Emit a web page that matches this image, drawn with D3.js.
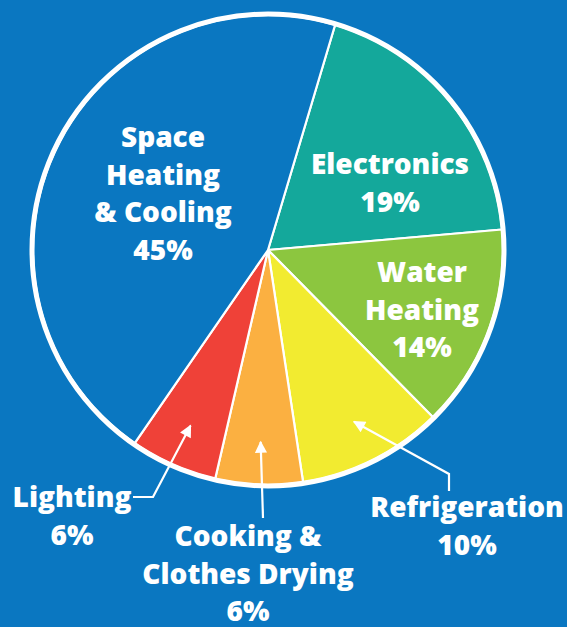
<!DOCTYPE html>
<html>
<head>
<meta charset="utf-8">
<script src="https://cdn.jsdelivr.net/npm/d3@7"></script>
<style>
  body { margin: 0; background: #0a77c1; }
  text { font-family: "Open Sans", sans-serif; font-weight: 800; fill: #fff; }
</style>
</head>
<body>
<div id="chart"></div>
<script>
// data
var categories = ["Electronics", "Water Heating", "Refrigeration", "Cooking & Clothes Drying", "Lighting", "Space Heating & Cooling"];
var shares = [19, 14, 10, 6, 6, 45];
var sliceColors = ["#14a89b", "#8cc63f", "#f2eb30", "#fbb041", "#ef4138", "#0a77c1"];
var labelLines = [
    ["Electronics", "19%"],
    ["Water", "Heating", "14%"],
    ["Refrigeration", "10%"],
    ["Cooking &", "Clothes Drying", "6%"],
    ["Lighting", "6%"],
    ["Space", "Heating", "& Cooling", "45%"]
];

var width = 567, height = 627;
var cx = 268, cy = 250, radius = 235;

// where each label block sits (first baseline), relative to the page
var labelPos = [
    { x: 390, y: 174 },
    { x: 422, y: 282 },
    { x: 467, y: 517 },
    { x: 248, y: 546 },
    { x: 72, y: 507 },
    { x: 163, y: 147 }
];
var lineGap = 37.5;

var svg = d3.select("#chart")
    .append("svg")
    .attr("width", width)
    .attr("height", height);

svg.append("rect")
    .attr("width", width)
    .attr("height", height)
    .attr("fill", "#0a77c1");

var startAngle = 16.6 * Math.PI / 180;

var pie = d3.pie()
    .sort(null)
    .value(d => d)
    .startAngle(startAngle)
    .endAngle(startAngle + 2 * Math.PI);

var arcs = pie(shares);

var arc = d3.arc()
    .innerRadius(0)
    .outerRadius(radius);

var g = svg.append("g")
    .attr("transform", `translate(${cx}, ${cy})`);

g.selectAll("path.slice")
    .data(arcs)
    .enter()
    .append("path")
    .attr("class", "slice")
    .attr("d", arc)
    .attr("fill", (d, i) => sliceColors[i])
    .attr("stroke", "#fff")
    .attr("stroke-width", 2.2)
    .attr("stroke-linejoin", "round");

// thick outer ring
g.append("circle")
    .attr("r", radius + 1)
    .attr("fill", "none")
    .attr("stroke", "#fff")
    .attr("stroke-width", 5);

// labels
labelLines.forEach(function (lines, i) {
    var t = svg.append("text")
        .attr("text-anchor", "middle")
        .style("font-size", "28px");
    lines.forEach(function (line, j) {
        t.append("tspan")
            .attr("x", labelPos[i].x)
            .attr("y", labelPos[i].y + j * lineGap)
            .text(line);
    });
});

// arrows pointing into the small slices
var defs = svg.append("defs");
defs.append("marker")
    .attr("id", "head")
    .attr("viewBox", "0 0 10 10")
    .attr("refX", 9)
    .attr("refY", 5)
    .attr("markerWidth", 6.5)
    .attr("markerHeight", 5.5)
    .attr("markerUnits", "strokeWidth")
    .attr("orient", "auto")
    .append("path")
    .attr("d", "M0,0 L10,5 L0,10 Z")
    .attr("fill", "#fff");

var tipArc = d3.arc().innerRadius(192).outerRadius(192);
function tip(i) {
    var c = tipArc.centroid(arcs[i]);
    return [cx + c[0], cy + c[1]];
}

var arrows = [
    { slice: 2, path: [[449, 491], [449, 474]] },
    { slice: 3, path: [[263, 518]] },
    { slice: 4, path: [[133, 497], [153, 497]] }
];

var line = d3.line();
arrows.forEach(function (a) {
    var pts = a.path.concat([tip(a.slice)]);
    svg.append("path")
        .attr("d", line(pts))
        .attr("fill", "none")
        .attr("stroke", "#fff")
        .attr("stroke-width", 2.2)
        .attr("marker-end", "url(#head)");
});
</script>
</body>
</html>
